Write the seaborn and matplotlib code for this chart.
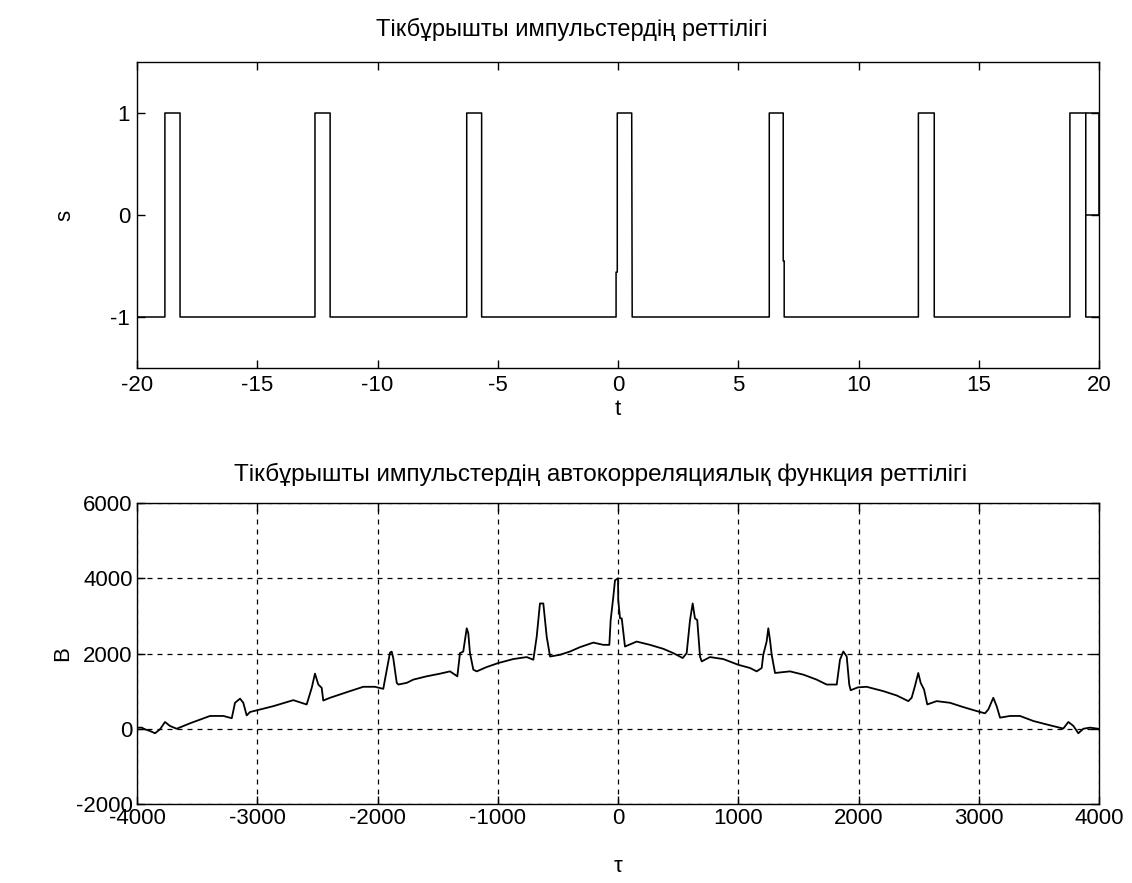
import numpy as np
import pandas as pd
import matplotlib
matplotlib.use("Agg")
import matplotlib.pyplot as plt
import seaborn as sns

# ---- data: top rectangular pulse train (vertices) ----
sig_t = [-20, -18.84, -18.84, -18.21, -18.21, -12.60, -12.60, -11.97, -11.97,
         -6.29, -6.29, -5.67, -5.67, -0.08, -0.08, -0.03, -0.03, 0.57, 0.59,
         6.29, 6.29, 6.87, 6.87, 6.91, 6.91, 12.49, 12.49, 13.15, 13.15,
         18.79, 18.79, 19.45, 19.45, 20]
sig_s = [-1, -1, 1, 1, -1, -1, 1, 1, -1,
         -1, 1, 1, -1, -1, -0.56, -0.56, 1, 1, -1,
         -1, 1, 1, -0.45, -0.45, -1, -1, 1, 1, -1,
         -1, 1, 1, -1, -1]
tail_t = [19.45, 20, 20, 19.45]
tail_s = [1, 1, 0, 0]

# ---- data: autocorrelation (lag, value) ----
lag = [-3998, -3961, -3933, -3892, -3850, -3809, -3767, -3726, -3670, -3559,
       -3393, -3282, -3212, -3185, -3143, -3116, -3088, -3060, -2991, -2867,
       -2700, -2589, -2547, -2520, -2492, -2464, -2451, -2395, -2229, -2118,
       -2021, -1952, -1938, -1896, -1882, -1869, -1840, -1827, -1757, -1702,
       -1591, -1480, -1397, -1336, -1314, -1287, -1258, -1245, -1231, -1203,
       -1175, -1092, -995, -871, -759, -704, -676, -649, -621, -593,
       -565, -482, -399, -316, -205, -122, -72, -61, -39, -25,
       0, 2, 17, 31, 58, 155, 266, 377, 460, 538,
       571, 599, 621, 640, 659, 682, 696, 765, 876, 1000,
       1098, 1153, 1195, 1208, 1236, 1250, 1264, 1278, 1306, 1430,
       1541, 1652, 1735, 1819, 1846, 1874, 1902, 1923, 1935, 1995,
       2068, 2206, 2318, 2414, 2442, 2469, 2497, 2517, 2545, 2572,
       2650, 2761, 2872, 2983, 3052, 3080, 3121, 3149, 3177, 3260,
       3343, 3454, 3592, 3703, 3745, 3787, 3828, 3870, 3925, 3995]
acf = [30, 30, -15, -60, -120, -15, 180, 75, 0, 145,
       340, 340, 280, 690, 800, 690, 355, 445, 500, 600,
       760, 645, 1087, 1465, 1175, 1087, 750, 823, 1000, 1115,
       1115, 1060, 1306, 2024, 2050, 1880, 1220, 1175, 1220, 1306,
       1394, 1464, 1525, 1394, 2010, 2050, 2670, 2540, 2010, 1570,
       1525, 1640, 1747, 1852, 1905, 1834, 2449, 3330, 3330, 2449,
       1920, 1966, 2053, 2169, 2290, 2230, 2230, 2890, 3504, 3944,
       4000, 3417, 2934, 2934, 2185, 2317, 2230, 2124, 2010, 1880,
       2010, 2890, 3330, 2934, 2890, 1920, 1790, 1905, 1852, 1700,
       1615, 1525, 1615, 1966, 2317, 2670, 2360, 1966, 1482, 1525,
       1438, 1306, 1175, 1175, 1834, 2053, 1920, 1175, 1024, 1100,
       1115, 1000, 884, 734, 823, 1130, 1482, 1220, 1042, 646,
       734, 690, 575, 470, 410, 515, 823, 600, 295, 340,
       340, 206, 92, 5, 180, 75, -120, 0, 30, 0]

top_title = "Тікбұрышты импульстердің реттілігі"
bot_title = "Тікбұрышты импульстердің автокорреляциялық функция реттілігі"
top_xticks = [-20, -15, -10, -5, 0, 5, 10, 15, 20]
top_yticks = [-1, 0, 1]
bot_xticks = [-4000, -3000, -2000, -1000, 0, 1000, 2000, 3000, 4000]
bot_yticks = [-2000, 0, 2000, 4000, 6000]

sns.set_theme(style="white")
plt.rcParams['font.family'] = ['Liberation Sans', 'DejaVu Sans']
plt.rcParams.update({
    'xtick.direction': 'in', 'ytick.direction': 'in',
    'xtick.top': True, 'ytick.right': True,
    'xtick.bottom': True, 'ytick.left': True,
    'xtick.major.size': 6, 'ytick.major.size': 6,
    'xtick.major.width': 1.0, 'ytick.major.width': 1.0,
    'xtick.color': 'black', 'ytick.color': 'black',
    'axes.edgecolor': 'black', 'axes.linewidth': 1.0,
    'text.color': 'black', 'axes.labelcolor': 'black',
})

fig = plt.figure(figsize=(11.32, 8.83), dpi=100)
ax1 = fig.add_axes([137/1132, 1-368/883, 962/1132, 306/883])
ax2 = fig.add_axes([137/1132, 1-804/883, 962/1132, 301/883])

df_sig = pd.DataFrame({'t': sig_t, 's': sig_s})
df_tail = pd.DataFrame({'t': tail_t, 's': tail_s})
sns.lineplot(data=df_sig, x='t', y='s', sort=False, estimator=None,
             color='black', linewidth=1.1, ax=ax1)
sns.lineplot(data=df_tail, x='t', y='s', sort=False, estimator=None,
             color='black', linewidth=1.1, ax=ax1)
ax1.set_xlim(-20, 20)
ax1.set_ylim(-1.5, 1.5)
ax1.set_xticks(top_xticks)
ax1.set_xticklabels([str(v) for v in top_xticks])
ax1.set_yticks(top_yticks)
ax1.set_yticklabels([str(v) for v in top_yticks])
ax1.tick_params(labelsize=16, pad=5)
ax1.set_xlabel('t', fontsize=16, labelpad=2)
ax1.set_ylabel('s', fontsize=16, labelpad=25)
ax1.set_title(top_title, fontsize=17, pad=19, x=0.452)

df_acf = pd.DataFrame({'lag': lag, 'B': acf})
sns.lineplot(data=df_acf, x='lag', y='B', sort=False, estimator=None,
             color='black', linewidth=1.3, ax=ax2)
ax2.set_xlim(-4000, 4000)
ax2.set_ylim(-2000, 6000)
ax2.set_xticks(bot_xticks)
ax2.set_xticklabels([str(v) for v in bot_xticks])
ax2.set_yticks(bot_yticks)
ax2.set_yticklabels([str(v) for v in bot_yticks])
ax2.tick_params(labelsize=16, pad=3)
ax2.grid(True, color='black', linestyle=(0, (4, 4)), linewidth=0.9)
ax2.set_xlabel('τ', fontsize=16, labelpad=19)
ax2.set_ylabel('B', fontsize=16, labelpad=2)
ax2.set_title(bot_title, fontsize=17.5, pad=16, x=0.482)
for a in (ax1, ax2):
    for sp in a.spines.values():
        sp.set_visible(True)
        sp.set_color('black')

fig.savefig('out.png', dpi=100, facecolor='white')
